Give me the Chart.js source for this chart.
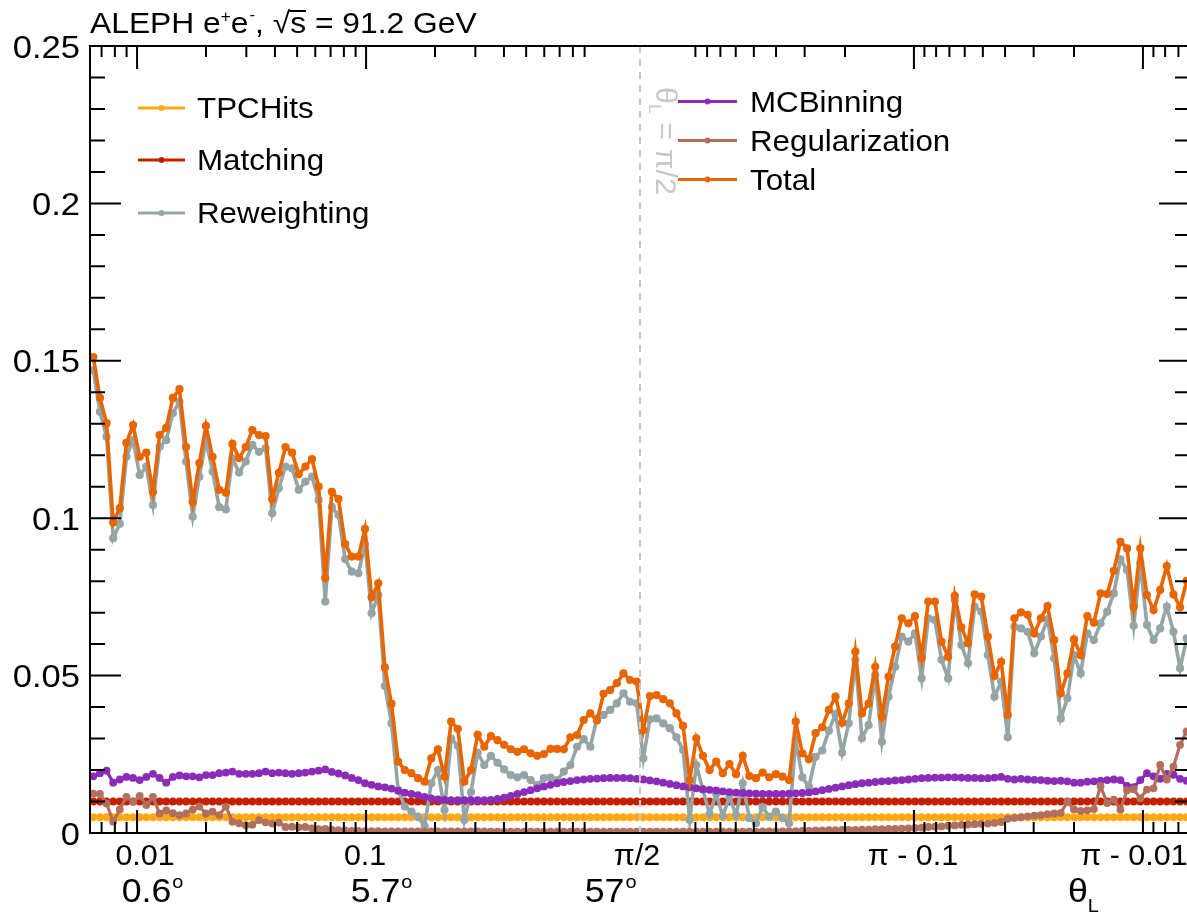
<!DOCTYPE html>
<html>
<head>
<meta charset="utf-8">
<script src="https://cdn.jsdelivr.net/npm/chart.js@4.4.1/dist/chart.umd.min.js"></script>
<style>
    html, body { margin: 0; padding: 0; background: #fff; overflow: hidden; }
    #wrap { width: 1200px; height: 916px; }
</style>
</head>
<body>
<div id="wrap"><canvas id="unc_chart" width="1200" height="916"></canvas></div>
<script>
// binning: 166 bins, uniform in log(theta) on the left half and in log(pi - theta) on the right
const n_bins = 166;
const half_bins = 83;
const bins_per_decade = 34.56;

const tpc_hits = new Array(n_bins).fill(0.005);
const matching = new Array(n_bins).fill(0.010);

const reweighting = [
    0.1470, 0.1338, 0.1259, 0.0936, 0.0982, 0.1195, 0.1248, 0.1137, 0.1164, 0.1042,
    0.1227, 0.1248, 0.1333, 0.1370, 0.1180, 0.1005, 0.1132, 0.1248, 0.1148, 0.1035,
    0.1028, 0.1190, 0.1145, 0.1180, 0.1233, 0.1211, 0.1222, 0.1016, 0.1095, 0.1164,
    0.1158, 0.1090, 0.1116, 0.1132, 0.1058, 0.0735, 0.1036, 0.1010, 0.0870, 0.0830,
    0.0825, 0.0918, 0.0698, 0.0756, 0.0467, 0.0348, 0.0137, 0.0084, 0.0068, 0.0052,
    0.0022, 0.0158, 0.0200, 0.0073, 0.0300, 0.0277, 0.0041, 0.0130, 0.0255, 0.0216,
    0.0245, 0.0223, 0.0202, 0.0184, 0.0177, 0.0184, 0.0168, 0.0152, 0.0174, 0.0176,
    0.0168, 0.0195, 0.0216, 0.0274, 0.0298, 0.0274, 0.0364, 0.0375, 0.0391, 0.0412,
    0.0444, 0.0417, 0.0412, 0.0237, 0.0361, 0.0364, 0.0348, 0.0333, 0.0304, 0.0264,
    0.0041, 0.0216, 0.0137, 0.0060, 0.0124, 0.0054, 0.0115, 0.0057, 0.0158, 0.0047,
    0.0031, 0.0082, 0.0052, 0.0068, 0.0047, 0.0031, 0.0295, 0.0177, 0.0147, 0.0242,
    0.0262, 0.0325, 0.0378, 0.0255, 0.0348, 0.0550, 0.0301, 0.0343, 0.0502, 0.0290,
    0.0433, 0.0528, 0.0624, 0.0608, 0.0634, 0.0491, 0.0682, 0.0677, 0.0550, 0.0491,
    0.0740, 0.0597, 0.0539, 0.0719, 0.0703, 0.0565, 0.0433, 0.0481, 0.0304, 0.0655,
    0.0650, 0.0639, 0.0571, 0.0624, 0.0679, 0.0555, 0.0364, 0.0428, 0.0565, 0.0507,
    0.0634, 0.0613, 0.0666, 0.0703, 0.0761, 0.0869, 0.0835, 0.0658, 0.0857, 0.0661,
    0.0613, 0.0650, 0.0719, 0.0639, 0.0523, 0.0618
];

const mc_binning = [
    0.0180, 0.0190, 0.0198, 0.0160, 0.0170, 0.0178, 0.0175, 0.0168, 0.0178, 0.0188,
    0.0175, 0.0160, 0.0178, 0.0183, 0.0180, 0.0180, 0.0177, 0.0184, 0.0184, 0.0190,
    0.0192, 0.0195, 0.0188, 0.0188, 0.0188, 0.0190, 0.0195, 0.0190, 0.0192, 0.0190,
    0.0188, 0.0190, 0.0192, 0.0195, 0.0198, 0.0202, 0.0194, 0.0189, 0.0183, 0.0175,
    0.0168, 0.0158, 0.0153, 0.0148, 0.0145, 0.0141, 0.0134, 0.0128, 0.0124, 0.0120,
    0.0115, 0.0110, 0.0107, 0.0105, 0.0104, 0.0104, 0.0104, 0.0104, 0.0104, 0.0104,
    0.0105, 0.0108, 0.0112, 0.0118, 0.0124, 0.0130, 0.0136, 0.0142, 0.0148, 0.0153,
    0.0158, 0.0162, 0.0165, 0.0168, 0.0170, 0.0172, 0.0173, 0.0174, 0.0175, 0.0175,
    0.0175, 0.0174, 0.0172, 0.0170, 0.0167, 0.0164, 0.0160, 0.0156, 0.0152, 0.0148,
    0.0145, 0.0142, 0.0139, 0.0137, 0.0135, 0.0132, 0.0130, 0.0128, 0.0127, 0.0126,
    0.0125, 0.0124, 0.0124, 0.0124, 0.0124, 0.0125, 0.0126, 0.0127, 0.0129, 0.0132,
    0.0136, 0.0140, 0.0144, 0.0148, 0.0152, 0.0155, 0.0158, 0.0160, 0.0162, 0.0164,
    0.0165, 0.0167, 0.0168, 0.0170, 0.0172, 0.0174, 0.0175, 0.0176, 0.0176, 0.0177,
    0.0177, 0.0176, 0.0175, 0.0175, 0.0174, 0.0174, 0.0176, 0.0178, 0.0172, 0.0170,
    0.0172, 0.0170, 0.0169, 0.0168, 0.0166, 0.0165, 0.0166, 0.0164, 0.0160, 0.0160,
    0.0163, 0.0164, 0.0166, 0.0168, 0.0170, 0.0168, 0.0150, 0.0146, 0.0168, 0.0190,
    0.0180, 0.0172, 0.0188, 0.0185, 0.0172, 0.0166
];

const regularization = [
    0.0125, 0.0124, 0.0094, 0.0036, 0.0075, 0.0115, 0.0099, 0.0118, 0.0089, 0.0115,
    0.0062, 0.0072, 0.0063, 0.0057, 0.0062, 0.0074, 0.0084, 0.0062, 0.0068, 0.0057,
    0.0084, 0.0036, 0.0031, 0.0025, 0.0026, 0.0041, 0.0034, 0.0030, 0.0033, 0.0019,
    0.0020, 0.0018, 0.0019, 0.0015, 0.0012, 0.0013, 0.0010, 0.0009, 0.0008, 0.0007,
    0.0007, 0.0006, 0.0006, 0.0006, 0.0005, 0.0005, 0.0005, 0.0005, 0.0005, 0.0005,
    0.0005, 0.0005, 0.0005, 0.0005, 0.0005, 0.0005, 0.0005, 0.0005, 0.0005, 0.0005,
    0.0004, 0.0004, 0.0004, 0.0004, 0.0004, 0.0004, 0.0004, 0.0004, 0.0004, 0.0004,
    0.0004, 0.0004, 0.0004, 0.0004, 0.0004, 0.0004, 0.0004, 0.0004, 0.0004, 0.0004,
    0.0004, 0.0004, 0.0004, 0.0004, 0.0004, 0.0004, 0.0004, 0.0004, 0.0004, 0.0004,
    0.0004, 0.0004, 0.0004, 0.0004, 0.0004, 0.0004, 0.0004, 0.0004, 0.0004, 0.0004,
    0.0004, 0.0005, 0.0005, 0.0005, 0.0005, 0.0006, 0.0006, 0.0007, 0.0007, 0.0008,
    0.0008, 0.0009, 0.0009, 0.0010, 0.0010, 0.0010, 0.0011, 0.0011, 0.0012, 0.0012,
    0.0013, 0.0013, 0.0014, 0.0015, 0.0016, 0.0017, 0.0019, 0.0020, 0.0021, 0.0023,
    0.0024, 0.0026, 0.0027, 0.0028, 0.0029, 0.0030, 0.0032, 0.0035, 0.0045, 0.0048,
    0.0050, 0.0053, 0.0055, 0.0057, 0.0060, 0.0062, 0.0064, 0.0099, 0.0075, 0.0070,
    0.0072, 0.0076, 0.0149, 0.0095, 0.0106, 0.0074, 0.0136, 0.0139, 0.0110, 0.0138,
    0.0142, 0.0216, 0.0170, 0.0211, 0.0280, 0.0323
];

const total = [
    0.1512, 0.1382, 0.1302, 0.0986, 0.1032, 0.1239, 0.1296, 0.1195, 0.1208, 0.1083,
    0.1264, 0.1287, 0.1382, 0.1410, 0.1226, 0.1052, 0.1175, 0.1293, 0.1195, 0.1090,
    0.1081, 0.1236, 0.1191, 0.1226, 0.1280, 0.1264, 0.1261, 0.1061, 0.1144, 0.1226,
    0.1208, 0.1140, 0.1164, 0.1188, 0.1100, 0.0810, 0.1084, 0.1061, 0.0918, 0.0878,
    0.0878, 0.0966, 0.0749, 0.0793, 0.0526, 0.0410, 0.0227, 0.0200, 0.0190, 0.0174,
    0.0163, 0.0237, 0.0266, 0.0179, 0.0354, 0.0331, 0.0163, 0.0200, 0.0312, 0.0274,
    0.0308, 0.0295, 0.0280, 0.0266, 0.0258, 0.0266, 0.0253, 0.0245, 0.0251, 0.0267,
    0.0267, 0.0266, 0.0304, 0.0311, 0.0359, 0.0380, 0.0357, 0.0442, 0.0454, 0.0476,
    0.0507, 0.0486, 0.0481, 0.0327, 0.0435, 0.0438, 0.0425, 0.0412, 0.0380, 0.0340,
    0.0168, 0.0301, 0.0245, 0.0200, 0.0227, 0.0190, 0.0219, 0.0187, 0.0245, 0.0181,
    0.0174, 0.0192, 0.0177, 0.0187, 0.0179, 0.0168, 0.0354, 0.0253, 0.0234, 0.0317,
    0.0336, 0.0391, 0.0433, 0.0350, 0.0411, 0.0576, 0.0380, 0.0411, 0.0528, 0.0369,
    0.0497, 0.0592, 0.0682, 0.0666, 0.0689, 0.0557, 0.0735, 0.0735, 0.0608, 0.0560,
    0.0753, 0.0653, 0.0603, 0.0758, 0.0751, 0.0624, 0.0499, 0.0544, 0.0375, 0.0682,
    0.0701, 0.0693, 0.0634, 0.0682, 0.0721, 0.0613, 0.0444, 0.0507, 0.0615, 0.0565,
    0.0689, 0.0668, 0.0761, 0.0759, 0.0833, 0.0925, 0.0904, 0.0719, 0.0904, 0.0756,
    0.0708, 0.0772, 0.0848, 0.0758, 0.0717, 0.0801
];

// axis labels
const y_ticks = [0, 0.05, 0.1, 0.15, 0.2, 0.25];
const y_tick_labels = ['0', '0.05', '0.1', '0.15', '0.2', '0.25'];
const x_label_theta = [0.01, 0.1, Math.PI / 2, Math.PI - 0.1, Math.PI - 0.01];
const x_labels = ['0.01', '0.1', 'π/2', 'π - 0.1', 'π - 0.01'];
const deg_theta = [0.01, 0.1, 1];
const deg_labels = ['0.6', '5.7', '57'];

const series = [
    { label: 'TPCHits',        values: tpc_hits,       color: '#ffa812', width: 3.2, radius: 3.9 },
    { label: 'Matching',       values: matching,       color: '#c32000', width: 3.2, radius: 3.9 },
    { label: 'Reweighting',    values: reweighting,    color: '#95a5a6', width: 3.6, radius: 4.1 },
    { label: 'MCBinning',      values: mc_binning,     color: '#8a2cb8', width: 3.2, radius: 3.9 },
    { label: 'Regularization', values: regularization, color: '#b2705c', width: 3.2, radius: 3.9 },
    { label: 'Total',          values: total,          color: '#e86500', width: 3.6, radius: 4.1 }
];

const FONT = '"Liberation Sans", Arial, sans-serif';

function theta_to_bin(theta) {
    const c = Math.log10(Math.PI / 2);
    if (theta <= Math.PI / 2) {
        return half_bins + (Math.log10(theta) - c) * bins_per_decade;
    }
    return half_bins - (Math.log10(Math.PI - theta) - c) * bins_per_decade;
}

function put_text(ctx, str, x, y, size, align, stretch) {
    stretch = stretch || 1;
    ctx.save();
    ctx.font = size + 'px ' + FONT;
    ctx.textAlign = align || 'left';
    ctx.textBaseline = 'alphabetic';
    ctx.translate(x, y);
    ctx.scale(stretch, 1);
    ctx.fillText(str, 0, 0);
    const w = ctx.measureText(str).width * stretch;
    ctx.restore();
    return w;
}

function text_width(ctx, str, size, stretch) {
    ctx.save();
    ctx.font = size + 'px ' + FONT;
    const w = ctx.measureText(str).width * (stretch || 1);
    ctx.restore();
    return w;
}

function draw_legend_entry(ctx, s, x0, x1, y, text_x, size) {
    ctx.save();
    ctx.strokeStyle = s.color;
    ctx.lineWidth = 3;
    ctx.beginPath();
    ctx.moveTo(x0, y);
    ctx.lineTo(x1, y);
    ctx.stroke();
    ctx.fillStyle = s.color;
    ctx.beginPath();
    ctx.arc((x0 + x1) / 2, y, 3, 0, Math.PI * 2);
    ctx.fill();
    ctx.fillStyle = '#000';
    put_text(ctx, s.label, text_x, y + size * 0.35, size, 'left', 1.08);
    ctx.restore();
}

// frame, inward ticks, labels and legend
const frame_plugin = {
    id: 'frame',
    afterDatasetsDraw(chart) {
        const ctx = chart.ctx;
        const a = chart.chartArea;
        const x = chart.scales.x;
        const y = chart.scales.y;

        // theta_L = pi/2 marker
        const xm = x.getPixelForValue(theta_to_bin(Math.PI / 2));
        ctx.save();
        ctx.strokeStyle = '#c8c8c8';
        ctx.lineWidth = 2;
        ctx.setLineDash([7, 6]);
        ctx.beginPath();
        ctx.moveTo(xm, a.top);
        ctx.lineTo(xm, a.bottom);
        ctx.stroke();
        ctx.restore();

        ctx.save();
        ctx.fillStyle = '#c8c8c8';
        ctx.translate(xm + 16, 87);
        ctx.rotate(Math.PI / 2);
        let px = put_text(ctx, 'θ', 0, 0, 29, 'left', 1.05);
        px += put_text(ctx, 'L', px, 7, 17, 'left', 1.05);
        put_text(ctx, ' = π/2', px, 0, 29, 'left', 1.05);
        ctx.restore();

        // frame
        ctx.save();
        ctx.strokeStyle = '#000';
        ctx.lineWidth = 2;
        ctx.strokeRect(a.left, a.top, a.right - a.left, a.bottom - a.top);

        // y ticks (left and right)
        ctx.beginPath();
        for (let k = 0; k <= 25; k++) {
            const py = y.getPixelForValue(k * 0.01);
            const len = (k % 5 === 0) ? 31 : 15;
            ctx.moveTo(a.left, py);
            ctx.lineTo(a.left + len, py);
            ctx.moveTo(a.right, py);
            ctx.lineTo(a.right - len, py);
        }
        ctx.stroke();

        // x ticks (bottom and top), mirrored about pi/2
        ctx.beginPath();
        [0.001, 0.01, 0.1].forEach(decade => {
            for (let m = 1; m <= 9; m++) {
                const th = m * decade;
                const b = theta_to_bin(th);
                if (b < 0) continue;
                const len = (m === 1) ? 23 : 11;
                [b, theta_to_bin(Math.PI - th)].forEach(bb => {
                    const pxx = x.getPixelForValue(bb);
                    ctx.moveTo(pxx, a.bottom);
                    ctx.lineTo(pxx, a.bottom - len);
                    ctx.moveTo(pxx, a.top);
                    ctx.lineTo(pxx, a.top + len);
                });
            }
        });
        ctx.stroke();
        ctx.restore();

        ctx.save();
        ctx.fillStyle = '#000';

        // y labels
        y_ticks.forEach((v, i) => {
            put_text(ctx, y_tick_labels[i], 80, y.getPixelForValue(v) + 11.5, 32, 'right', 1.08);
        });

        // x labels, first row
        const nudges = [8, -1, -3, -1, -9];
        x_labels.forEach((lab, i) => {
            const pxx = x.getPixelForValue(theta_to_bin(x_label_theta[i])) + nudges[i];
            put_text(ctx, lab, pxx, 865, 29, 'center', 1.05);
        });

        // x labels, second row in degrees
        deg_labels.forEach((lab, i) => {
            const w = text_width(ctx, lab, 34, 1.05);
            const ws = text_width(ctx, 'o', 19, 1.05);
            const cx = x.getPixelForValue(theta_to_bin(deg_theta[i])) + 15;
            const x0 = cx - (w + ws) / 2;
            put_text(ctx, lab, x0, 902, 34, 'left', 1.05);
            put_text(ctx, 'o', x0 + w + 1, 888, 19, 'left', 1.05);
        });

        // axis title
        const wt = put_text(ctx, 'θ', 1068, 902, 34, 'left', 1.05);
        put_text(ctx, 'L', 1068 + wt, 912, 19, 'left', 1.05);

        // header
        let tx = 90;
        tx += put_text(ctx, 'ALEPH e', tx, 33, 30, 'left', 1.06);
        tx += put_text(ctx, '+', tx, 22, 16, 'left', 1.06);
        tx += put_text(ctx, 'e', tx, 33, 30, 'left', 1.06);
        tx += put_text(ctx, '-', tx + 1, 20, 16, 'left', 1.06) + 1;
        tx += put_text(ctx, ', ', tx, 33, 30, 'left', 1.06);
        const wr = put_text(ctx, '√', tx, 33, 30, 'left', 1.06);
        tx += wr;
        const ws = put_text(ctx, 's', tx, 33, 30, 'left', 1.06);
        ctx.strokeStyle = '#000';
        ctx.lineWidth = 2;
        ctx.beginPath();
        ctx.moveTo(tx - 1, 11);
        ctx.lineTo(tx + ws, 11);
        ctx.stroke();
        tx += ws;
        put_text(ctx, ' = 91.2 GeV', tx, 33, 30, 'left', 1.06);

        // legends
        const left_rows = [108, 160, 213];
        series.slice(0, 3).forEach((s, i) => draw_legend_entry(ctx, s, 138, 185, left_rows[i], 197, 29));
        const right_rows = [101.5, 140.5, 179.5];
        series.slice(3).forEach((s, i) => draw_legend_entry(ctx, s, 678, 737, right_rows[i], 750, 29));

        ctx.restore();
    }
};

const ctx = document.getElementById('unc_chart');

const chart_data = {
    datasets: series.map((s, i) => ({
        label: s.label,
        data: s.values.map((v, j) => ({ x: j + 0.5, y: v })),
        borderColor: s.color,
        backgroundColor: s.color,
        borderWidth: s.width,
        borderJoinStyle: 'miter',
        pointRadius: s.radius,
        pointBorderWidth: 0,
        pointBackgroundColor: s.color,
        tension: 0,
        fill: false,
        order: series.length - i
    }))
};

const config = {
    type: 'line',
    data: chart_data,
    options: {
        responsive: false,
        animation: false,
        devicePixelRatio: 1,
        layout: {
            padding: { left: 90, right: 10, top: 46, bottom: 83 }
        },
        plugins: {
            legend: { display: false },
            tooltip: { enabled: false }
        },
        scales: {
            x: { type: 'linear', min: 0, max: n_bins, display: false },
            y: { type: 'linear', min: 0, max: 0.25, display: false }
        }
    },
    plugins: [frame_plugin]
};

const unc_chart = new Chart(ctx, config);
</script>
</body>
</html>
